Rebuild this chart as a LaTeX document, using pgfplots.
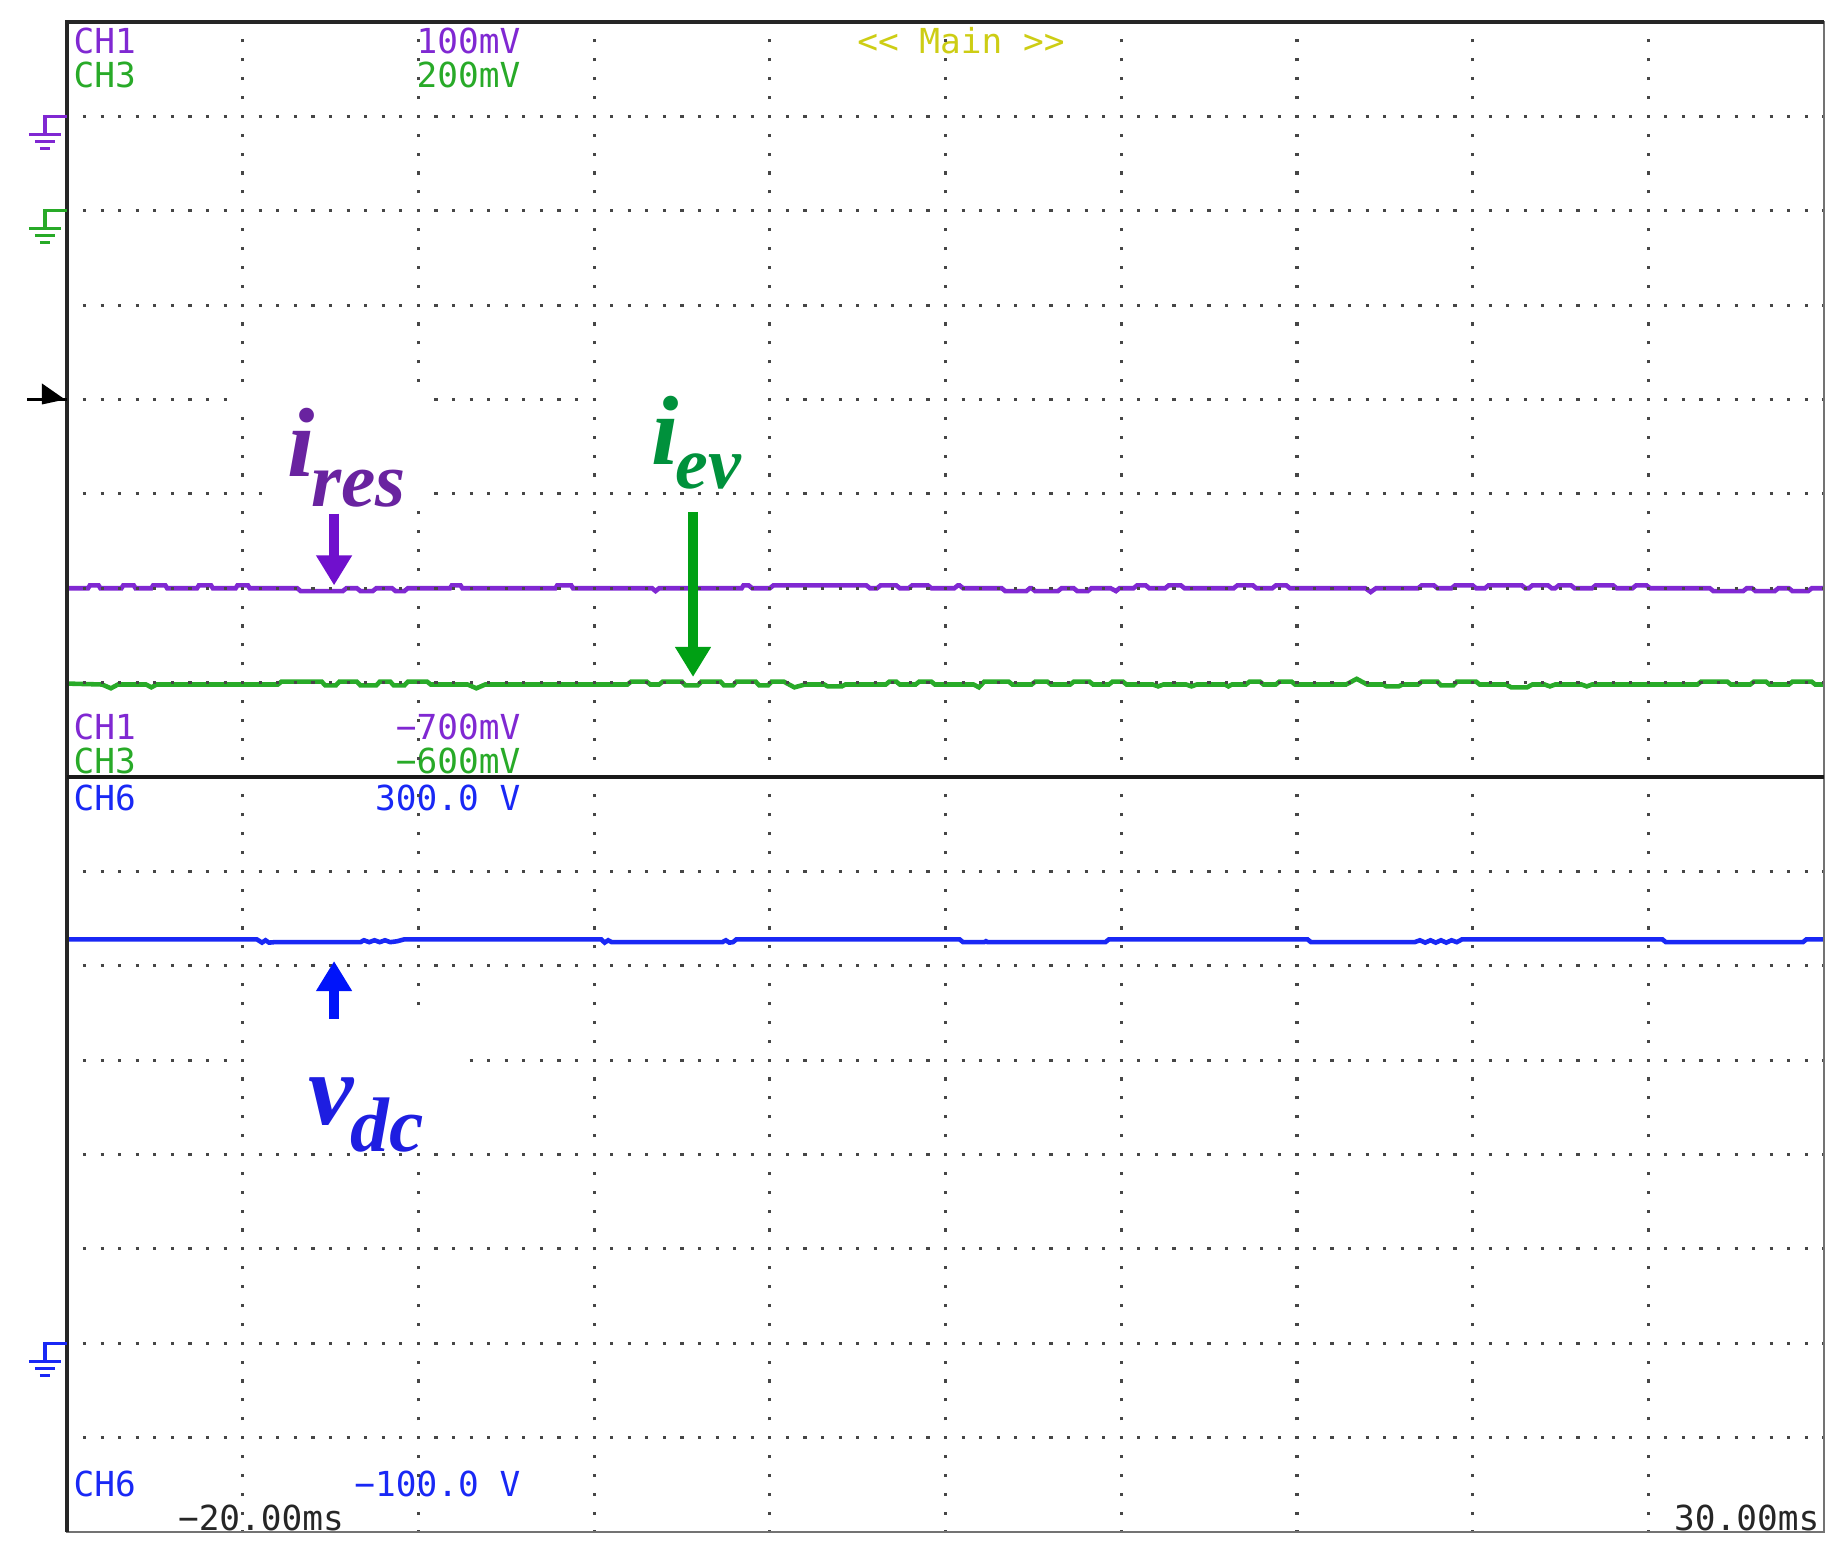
\documentclass[border=0pt]{standalone}
\usepackage{fontspec}
\usepackage{pgfplots}
\pgfplotsset{compat=1.18}
\usetikzlibrary{arrows.meta}
\newfontfamily\scopefont{DejaVu Sans Mono}
\newfontfamily\lblfont{Liberation Serif}

\definecolor{chA}{RGB}{128,40,210}
\definecolor{chC}{RGB}{40,170,40}
\definecolor{chF}{RGB}{25,40,245}
\definecolor{mainy}{RGB}{205,205,20}
\definecolor{griddot}{RGB}{70,70,70}
\definecolor{labp}{RGB}{105,35,160}
\definecolor{labg}{RGB}{0,145,60}
\definecolor{labb}{RGB}{30,30,225}
\definecolor{arrp}{RGB}{112,16,205}
\definecolor{arrg}{RGB}{0,160,20}
\definecolor{arrb}{RGB}{0,20,250}

\tikzset{
  scopetxt/.style={inner sep=0pt, font=\scopefont\fontsize{9.8}{10}\selectfont},
  gnd/.style={line width=0.9pt},
  bigarrow/.style={line width=3pt, -{Triangle[width=0.34cm,length=0.30cm]}},
  trace/.style={line width=1.3pt},
}

% ground marker at the left edge of the screen
\newcommand{\gnd}[2]{%
  \draw[gnd,#2] (0,#1) -- ++(-0.22cm,0) -- ++(0,-0.18cm);
  \draw[gnd,#2] ([shift={(-0.38cm,-0.18cm)}]0,#1) -- ++(0.32cm,0);
  \draw[gnd,#2] ([shift={(-0.32cm,-0.25cm)}]0,#1) -- ++(0.20cm,0);
  \draw[gnd,#2] ([shift={(-0.27cm,-0.32cm)}]0,#1) -- ++(0.10cm,0);
}

\begin{document}
\begin{tikzpicture}
\begin{axis}[
  scale only axis,
  width=17.57cm, height=15.10cm,
  xmin=0, xmax=10, ymin=0, ymax=16,
  axis on top,
  axis line style={draw=none},
  major tick length=0pt,
  xtick={1,...,9},
  ytick={1,2,3,4,5,6,7,9,10,11,12,13,14,15},
  xticklabels={}, yticklabels={},
  grid=major,
  x grid style={griddot, line width=0.9pt, dash pattern=on 0.9pt off 4.4705pt, dash phase=0.45pt},
  y grid style={griddot, line width=0.9pt, dash pattern=on 0.9pt off 4.0992pt, dash phase=0.45pt},
]
% CH1 -- i_res
\addplot[chA, trace] coordinates {
(0.00,10.00)
(0.12,10.00)(0.13,10.03)(0.18,10.03)(0.19,10.00)
(0.31,10.00)(0.32,10.03)(0.38,10.03)(0.39,10.00)
(0.48,10.00)(0.49,10.03)(0.56,10.03)(0.57,10.00)
(0.74,10.00)(0.75,10.03)(0.82,10.03)(0.83,10.00)
(0.96,10.00)(0.97,10.03)(1.03,10.03)(1.04,10.00)
(1.31,10.00)(1.33,9.97)(1.57,9.97)(1.59,10.00)
(1.65,10.00)(1.67,9.97)(1.74,9.97)(1.76,10.00)
(1.85,10.00)(1.87,9.97)(1.92,9.97)(1.94,10.00)
(2.18,10.00)(2.19,10.03)(2.24,10.03)(2.25,10.00)
(2.78,10.00)(2.79,10.03)(2.87,10.03)(2.88,10.00)
(3.33,10.00)(3.35,9.97)(3.37,10.00)
(3.84,10.00)(3.85,10.03)(3.88,10.03)(3.90,10.00)
(4.00,10.00)(4.02,10.03)(4.55,10.03)(4.57,10.00)
(4.61,10.00)(4.63,10.03)(4.72,10.03)(4.74,10.00)
(4.79,10.00)(4.81,10.03)(4.90,10.03)(4.92,10.00)
(5.05,10.00)(5.07,10.03)(5.08,10.03)(5.10,10.00)
(5.32,10.00)(5.34,9.97)(5.46,9.97)(5.48,10.00)
(5.49,10.00)(5.51,9.97)(5.64,9.97)(5.66,10.00)
(5.73,10.00)(5.75,9.97)(5.81,9.97)(5.83,10.00)
(5.94,10.00)(5.97,9.97)(5.99,10.00)
(6.07,10.00)(6.09,10.03)(6.14,10.03)(6.16,10.00)
(6.25,10.00)(6.27,10.03)(6.34,10.03)(6.36,10.00)
(6.64,10.00)(6.66,10.03)(6.75,10.03)(6.77,10.00)
(6.86,10.00)(6.88,10.03)(6.94,10.03)(6.96,10.00)
(7.39,10.00)(7.42,9.96)(7.45,10.00)
(7.69,10.00)(7.71,10.03)(7.78,10.03)(7.80,10.00)
(7.88,10.00)(7.90,10.03)(8.00,10.03)(8.02,10.00)
(8.07,10.00)(8.09,10.03)(8.28,10.03)(8.30,10.00)
(8.32,10.00)(8.34,10.03)(8.43,10.03)(8.45,10.00)
(8.47,10.00)(8.49,10.03)(8.56,10.03)(8.58,10.00)
(8.68,10.00)(8.70,10.03)(8.80,10.03)(8.82,10.00)
(8.91,10.00)(8.93,10.03)(8.99,10.03)(9.01,10.00)
(9.35,10.00)(9.37,9.97)(9.54,9.97)(9.56,10.00)
(9.59,10.00)(9.61,9.97)(9.72,9.97)(9.74,10.00)
(9.80,10.00)(9.82,9.97)(9.91,9.97)(9.93,10.00)
(10.00,10.00)
};
% CH3 -- i_ev
\addplot[chC, trace] coordinates {
(0.00,8.99)(0.20,8.98)(0.25,8.94)(0.29,8.98)(0.45,8.98)(0.48,8.95)(0.51,8.98)
(1.20,8.98)(1.22,9.01)(1.45,9.01)(1.47,8.97)(1.53,8.97)(1.55,9.01)(1.65,9.01)(1.67,8.97)
(1.76,8.97)(1.78,9.01)(1.84,9.01)(1.86,8.97)(1.92,8.97)(1.94,9.01)(2.05,9.01)(2.07,8.98)
(2.28,8.98)(2.33,8.94)(2.38,8.98)
(3.19,8.98)(3.21,9.01)(3.30,9.01)(3.32,8.98)
(3.37,8.98)(3.39,9.01)(3.50,9.01)(3.52,8.97)(3.59,8.97)(3.61,9.01)(3.72,9.01)(3.74,8.97)
(3.79,8.97)(3.81,9.01)(3.92,9.01)(3.94,8.97)(3.99,8.97)(4.01,9.01)(4.08,9.01)(4.14,8.95)(4.20,8.98)
(4.31,8.98)(4.33,8.96)(4.41,8.96)(4.43,8.98)
(4.66,8.98)(4.68,9.01)(4.72,9.01)(4.74,8.98)
(4.83,8.98)(4.85,9.01)(4.92,9.01)(4.94,8.98)
(5.16,8.98)(5.19,8.95)(5.22,9.01)(5.36,9.01)(5.38,8.98)
(5.49,8.98)(5.51,9.01)(5.58,9.01)(5.60,8.98)
(5.71,8.98)(5.73,9.01)(5.82,9.01)(5.84,8.98)
(5.93,8.98)(5.95,9.01)(6.01,9.01)(6.03,8.98)
(6.18,8.98)(6.21,8.96)(6.24,8.98)
(6.37,8.98)(6.40,8.96)(6.43,8.98)
(6.59,8.98)(6.61,8.96)(6.63,8.98)
(6.71,8.98)(6.73,9.01)(6.79,9.01)(6.81,8.98)
(6.88,8.98)(6.90,9.01)(6.97,9.01)(6.99,8.98)
(7.28,8.98)(7.34,9.04)(7.40,8.98)
(7.49,8.98)(7.51,8.96)(7.58,8.96)(7.60,8.98)
(7.69,8.98)(7.71,9.01)(7.80,9.01)(7.82,8.97)(7.89,8.97)(7.91,9.01)(8.02,9.01)(8.04,8.98)
(8.19,8.98)(8.22,8.95)(8.31,8.95)(8.34,8.98)
(8.41,8.98)(8.44,8.96)(8.47,8.98)
(8.62,8.98)(8.65,8.96)(8.68,8.98)
(9.28,8.98)(9.30,9.01)(9.45,9.01)(9.47,8.98)
(9.58,8.98)(9.60,9.01)(9.67,9.01)(9.69,8.98)
(9.80,8.98)(9.82,9.01)(9.93,9.01)(9.95,8.98)(10.00,8.98)
};
% CH6 -- v_dc
\addplot[chF, trace] coordinates {
(0.00,6.28)(1.08,6.28)(1.11,6.245)(1.13,6.27)(1.15,6.245)(1.18,6.25)
(1.67,6.25)(1.69,6.27)(1.72,6.25)(1.75,6.27)(1.78,6.25)(1.81,6.27)(1.84,6.25)(1.88,6.26)(1.92,6.28)
(3.04,6.28)(3.06,6.245)(3.08,6.27)(3.10,6.25)
(3.73,6.25)(3.75,6.27)(3.77,6.245)(3.79,6.25)(3.81,6.28)
(5.08,6.28)(5.10,6.25)(5.22,6.25)(5.23,6.26)(5.24,6.25)
(5.91,6.25)(5.93,6.28)
(7.06,6.28)(7.08,6.25)
(7.67,6.25)(7.70,6.27)(7.73,6.245)(7.76,6.27)(7.79,6.245)(7.82,6.27)(7.85,6.245)(7.88,6.27)(7.91,6.25)(7.94,6.28)
(9.08,6.28)(9.10,6.25)
(9.88,6.25)(9.90,6.28)(10.00,6.28)
};
% on-screen readouts
\node[scopetxt, anchor=west, text=chA] at (axis cs:0.034,15.80) {CH1};
\node[scopetxt, anchor=west, text=chC] at (axis cs:0.034,15.44) {CH3};
\node[scopetxt, anchor=east, text=chA] at (axis cs:2.584,15.80) {100mV};
\node[scopetxt, anchor=east, text=chC] at (axis cs:2.584,15.44) {200mV};
\node[scopetxt, text=mainy] at (axis cs:5.088,15.80) {<< Main >>};
\node[scopetxt, anchor=west, text=chA] at (axis cs:0.034,8.53) {CH1};
\node[scopetxt, anchor=west, text=chC] at (axis cs:0.034,8.17) {CH3};
\node[scopetxt, anchor=east, text=chA] at (axis cs:2.584,8.53) {−700mV};
\node[scopetxt, anchor=east, text=chC] at (axis cs:2.584,8.17) {−600mV};
\node[scopetxt, anchor=west, text=chF] at (axis cs:0.034,7.78) {CH6};
\node[scopetxt, anchor=east, text=chF] at (axis cs:2.584,7.78) {300.0 V};
\node[scopetxt, anchor=west, text=chF] at (axis cs:0.034,0.51) {CH6};
\node[scopetxt, anchor=east, text=chF] at (axis cs:2.584,0.51) {−100.0 V};
\node[scopetxt, text=black!85] at (axis cs:1.104,0.15) {−20.00ms};
\node[scopetxt, anchor=east, text=black!85] at (axis cs:9.977,0.15) {30.00ms};
\end{axis}

% annotations in screen divisions
\begin{scope}[shift={(current axis.south west)}, x=1.757cm, y=0.94375cm]
  % frame
  \draw[line width=0.6pt, black!55] (0,0) rectangle (10,16);
  \draw[line width=1.1pt, black!85] (0,0) -- (0,16) -- (10,16);
  \draw[line width=0.9pt, black!90] (0,8) -- (10,8);
  % ground and trigger markers
  \gnd{15}{chA}
  \gnd{14}{chC}
  \gnd{2}{chF}
  \draw[line width=0.9pt, black] (0,12) -- ++(-0.40cm,0);
  \fill[black] ([shift={(-0.25cm,0.16cm)}]0,12) -- ([shift={(-0.02cm,0)}]0,12) -- ([shift={(-0.25cm,-0.05cm)}]0,12) -- cycle;
  % white patches behind the labels
  \fill[white] (0.93,11.88) rectangle (2.07,12.12);
  \fill[white] (1.95,10.85) rectangle (2.05,12.12);
  \fill[white] (1.19,10.93) rectangle (1.93,11.07);
  \fill[white] (3.04,11.88) rectangle (3.97,12.12);
  \fill[white] (1.06,4.05) rectangle (2.22,5.55);
  % arrows
  \draw[bigarrow, arrp] (1.52,10.79) -- (1.52,10.03);
  \draw[bigarrow, arrg] (3.563,10.81) -- (3.563,9.06);
  \draw[bigarrow, arrb] (1.52,5.44) -- (1.52,6.05);
  % labels
  \node[anchor=base west, inner sep=0pt, text=labp] at (1.25,11.18)
    {\lblfont\bfseries\itshape\fontsize{28}{28}\selectfont i\kern-1pt\raisebox{-8.3pt}{\fontsize{22}{22}\selectfont res}};
  \node[anchor=base west, inner sep=0pt, text=labg] at (3.324,11.31)
    {\lblfont\bfseries\itshape\fontsize{28}{28}\selectfont i\kern-1pt\raisebox{-6.7pt}{\fontsize{21}{21}\selectfont ev}};
  \node[anchor=base west, inner sep=0pt, text=labb] at (1.372,4.32)
    {\lblfont\bfseries\itshape\fontsize{29}{29}\selectfont v\kern-1pt\raisebox{-7.7pt}{\fontsize{22}{22}\selectfont dc}};
\end{scope}

\pgfresetboundingbox
\path ([shift={(-0.67cm,-0.20cm)}]current axis.south west) rectangle ([shift={(0.21cm,0.22cm)}]current axis.north east);
\end{tikzpicture}
\end{document}
